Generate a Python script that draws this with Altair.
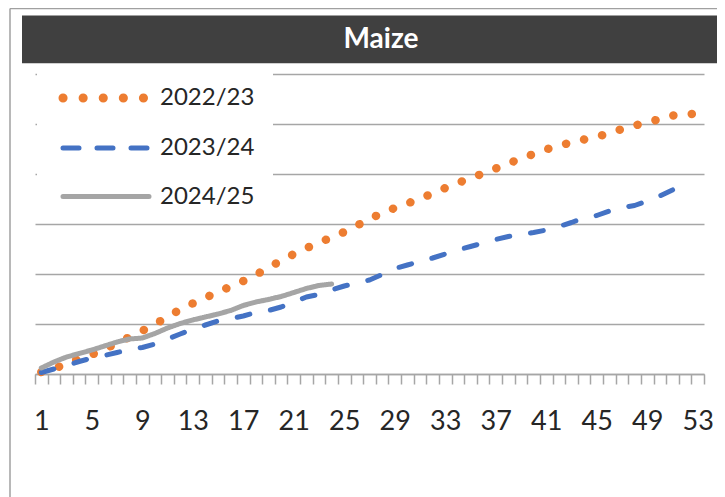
import altair as alt
import pandas as pd

# ---------------- data ----------------
weeks = list(range(1, 54))
seasons = ["2022/23", "2023/24", "2024/25"]
colors = ["#ED7D31", "#4472C4", "#A5A5A5"]
title_text = "Maize"

s2223 = [0.2, 0.55, 1.0, 1.55, 1.95, 2.45, 3.1, 3.7, 4.32, 4.97,
         5.72, 6.45, 7.06, 7.63, 8.2, 8.75, 9.3, 9.9, 10.7, 11.3,
         12.0, 12.6, 13.1, 13.7, 14.2, 14.85, 15.5, 16.1, 16.6, 17.05,
         17.55, 18.05, 18.6, 19.1, 19.6, 20.05, 20.55, 21.05, 21.55, 22.0,
         22.45, 22.85, 23.15, 23.45, 23.7, 24.1, 24.5, 24.85, 25.15, 25.5,
         25.85, 25.95, 26.05]
s2324 = [0.15, 0.5, 0.85, 1.25, 1.6, 1.85, 2.15, 2.45, 2.65, 3.0,
         3.5, 4.0, 4.5, 4.9, 5.3, 5.55, 5.8, 6.15, 6.35, 6.7,
         7.2, 7.7, 7.95, 8.4, 8.8, 9.1, 9.4, 9.95, 10.55, 10.9,
         11.25, 11.6, 12.0, 12.4, 12.75, 13.1, 13.45, 13.75, 13.95, 14.15,
         14.4, 14.75, 15.15, 15.6, 15.85, 16.3, 16.65, 16.85, 17.3, 17.8,
         18.4, 19.1]
s2425 = [0.6, 1.2, 1.7, 2.05, 2.4, 2.8, 3.2, 3.5, 3.6, 4.05,
         4.6, 5.05, 5.4, 5.7, 6.0, 6.35, 6.85, 7.2, 7.45, 7.75,
         8.15, 8.55, 8.85, 9.0]
y_grid = [0, 5, 10, 15, 20, 25, 30]

# ---------------- layout ----------------
W, H = 669, 300
PAD = {"left": 27, "top": 66, "right": 13, "bottom": 123}
FONT = "Lato"
TEXT_COLOR = "#262626"
GRID_COLOR = "#A6A6A6"
BAND = W / 53.0
RIGHT = W + PAD["right"]


def frame(vals, name):
    return pd.DataFrame({"week": weeks[:len(vals)], "value": vals, "season": name})


one = pd.DataFrame({"k": [0]})

x_scale = alt.Scale(domain=[0.5, 53.5], nice=False, zero=False)
y_scale = alt.Scale(domain=[0, 30], nice=False, zero=True)

x_axis = alt.Axis(
    values=[w - 0.5 for w in weeks] + [53.5],
    labelExpr="(datum.value - 0.5) % 4 == 0 && datum.value < 53 ? format(datum.value + 0.5, 'd') : ''",
    labelOffset=BAND / 2,
    labelOverlap=False,
    labelBound=False,
    labelFlush=False,
    labelFont=FONT,
    labelFontSize=27,
    labelColor=TEXT_COLOR,
    labelPadding=24,
    labelBaseline="top",
    tickSize=10,
    tickColor=GRID_COLOR,
    tickWidth=1.5,
    domainColor=GRID_COLOR,
    domainWidth=1.5,
    grid=False,
    title=None,
)
y_axis = alt.Axis(
    values=y_grid,
    labels=False,
    ticks=False,
    domain=False,
    grid=True,
    gridColor=GRID_COLOR,
    gridWidth=1.5,
    title=None,
)


def series_layer(vals, name, color, width, dash):
    return alt.Chart(frame(vals, name)).mark_line(
        color=color, strokeWidth=width, strokeDash=dash, strokeCap="round",
        strokeJoin="round"
    ).encode(
        x=alt.X("week:Q", scale=x_scale, axis=x_axis),
        y=alt.Y("value:Q", scale=y_scale, axis=y_axis),
    )


dash_styles = [[0.1, 18.4], [13, 21], [1, 0]]
widths = [8.5, 5, 5]
lines = [
    series_layer(s2223, seasons[0], colors[0], widths[0], dash_styles[0]),
    series_layer(s2324, seasons[1], colors[1], widths[1], dash_styles[1]),
    series_layer(s2425, seasons[2], colors[2], widths[2], dash_styles[2]),
]

# frame border (top and left)
border_top = alt.Chart(one).mark_rule(color="#A0A0A0", strokeWidth=1.5).encode(
    x=alt.value(-25), x2=alt.value(RIGHT), y=alt.value(-65.5))
border_left = alt.Chart(one).mark_rule(color="#A0A0A0", strokeWidth=1.5).encode(
    x=alt.value(-25), y=alt.value(-65.5), y2=alt.value(H + PAD["bottom"]))

# title bar
title_bar = alt.Chart(one).mark_rect(color="#404040").encode(
    x=alt.value(-13), x2=alt.value(RIGHT), y=alt.value(-58.5), y2=alt.value(-10.7))
title_txt = alt.Chart(one).mark_text(
    text=title_text, color="white", font=FONT, fontWeight="bold", fontSize=28,
    align="center", baseline="middle"
).encode(x=alt.value(346), y=alt.value(-34))

# legend box (covers gridlines)
legend_box = alt.Chart(one).mark_rect(color="white").encode(
    x=alt.value(2), x2=alt.value(238), y=alt.value(-5), y2=alt.value(146))

legend_y = [24, 74, 122.5]
legend_dash = [[0.1, 20], [16, 18], [1, 0]]
legend_x2 = [109, 114, 114]
legend_items = []
for i in range(3):
    legend_items.append(
        alt.Chart(one).mark_rule(
            color=colors[i], strokeWidth=widths[i] + (0.5 if i == 0 else 0),
            strokeDash=legend_dash[i], strokeCap="round"
        ).encode(x=alt.value(28), x2=alt.value(legend_x2[i]), y=alt.value(legend_y[i]))
    )
    legend_items.append(
        alt.Chart(one).mark_text(
            text=seasons[i], font=FONT, fontSize=24, color=TEXT_COLOR,
            align="left", baseline="middle"
        ).encode(x=alt.value(125), y=alt.value(legend_y[i]))
    )

chart = alt.layer(
    *lines, border_top, border_left, title_bar, title_txt, legend_box, *legend_items
).properties(
    width=W, height=H, padding=PAD,
    autosize=alt.AutoSizeParams(type="none"),
    background="white",
).configure_view(stroke=None)

chart.save("out.html", embed_options={"renderer": "svg", "actions": False})
